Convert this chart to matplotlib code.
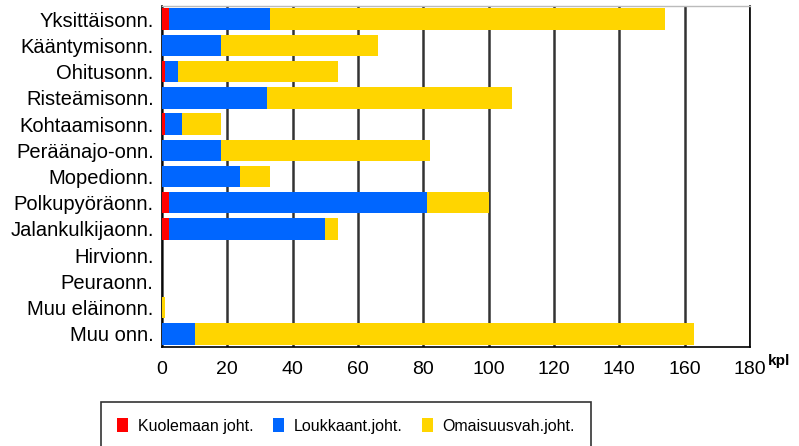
import matplotlib.pyplot as plt
import numpy as np

plt.rcParams['font.family'] = ['Liberation Sans', 'DejaVu Sans']

categories = ["Yksittäisonn.", "Kääntymisonn.", "Ohitusonn.", "Risteämisonn.",
              "Kohtaamisonn.", "Peräänajo-onn.", "Mopedionn.", "Polkupyöräonn.",
              "Jalankulkijaonn.", "Hirvionn.", "Peuraonn.", "Muu eläinonn.", "Muu onn."]
kuolema = [2, 0, 1, 0, 1, 0, 0, 2, 2, 0, 0, 0, 0]
loukkaant = [31, 18, 4, 32, 5, 18, 24, 79, 48, 0, 0, 0, 10]
omaisuus = [121, 48, 49, 75, 12, 64, 9, 19, 4, 0, 0, 1, 153]
series_names = ["Kuolemaan joht.", "Loukkaant.joht.", "Omaisuusvah.joht."]
colors = ["#FF0000", "#0066FF", "#FFD500"]
xticks = [0, 20, 40, 60, 80, 100, 120, 140, 160, 180]

fig = plt.figure(figsize=(7.99, 4.46), dpi=100)
ax = fig.add_axes([162 / 799, 1 - 347 / 446, 588 / 799, 341 / 446])

y = np.arange(len(categories))
left = np.zeros(len(categories))
for vals, name, c in zip([kuolema, loukkaant, omaisuus], series_names, colors):
    ax.barh(y, vals, left=left, height=0.82, color=c, label=name, zorder=3)
    left += np.array(vals)

ax.set_ylim(len(categories) - 0.5, -0.5)
ax.set_xlim(0, 180)
ax.set_yticks(y)
ax.set_yticklabels(categories, fontsize=14.5)
ax.set_xticks(xticks)
ax.set_xticklabels([str(t) for t in xticks], fontsize=14)
ax.tick_params(axis='y', length=0, pad=6)
ax.tick_params(axis='x', length=0, pad=10)
ax.xaxis.grid(True, color="#333333", linewidth=1.8, zorder=0)

for s in ['left', 'bottom', 'right']:
    ax.spines[s].set_color('black')
    ax.spines[s].set_linewidth(1.2)
ax.spines['top'].set_color('#bbbbbb')
ax.spines['top'].set_linewidth(1.0)

fig.text(768 / 799, 1 - 361 / 446, "kpl", fontsize=11, fontweight='bold', va='center')

leg = fig.legend(loc='center', bbox_to_anchor=(346 / 799, 1 - 426 / 446), ncol=3,
                 fontsize=11.5, frameon=True, fancybox=False, edgecolor='black',
                 handlelength=0.7, handleheight=0.9, columnspacing=1.2,
                 borderpad=1.0, handletextpad=0.6)
leg.get_frame().set_linewidth(1.2)

fig.savefig("out.png", dpi=100)
